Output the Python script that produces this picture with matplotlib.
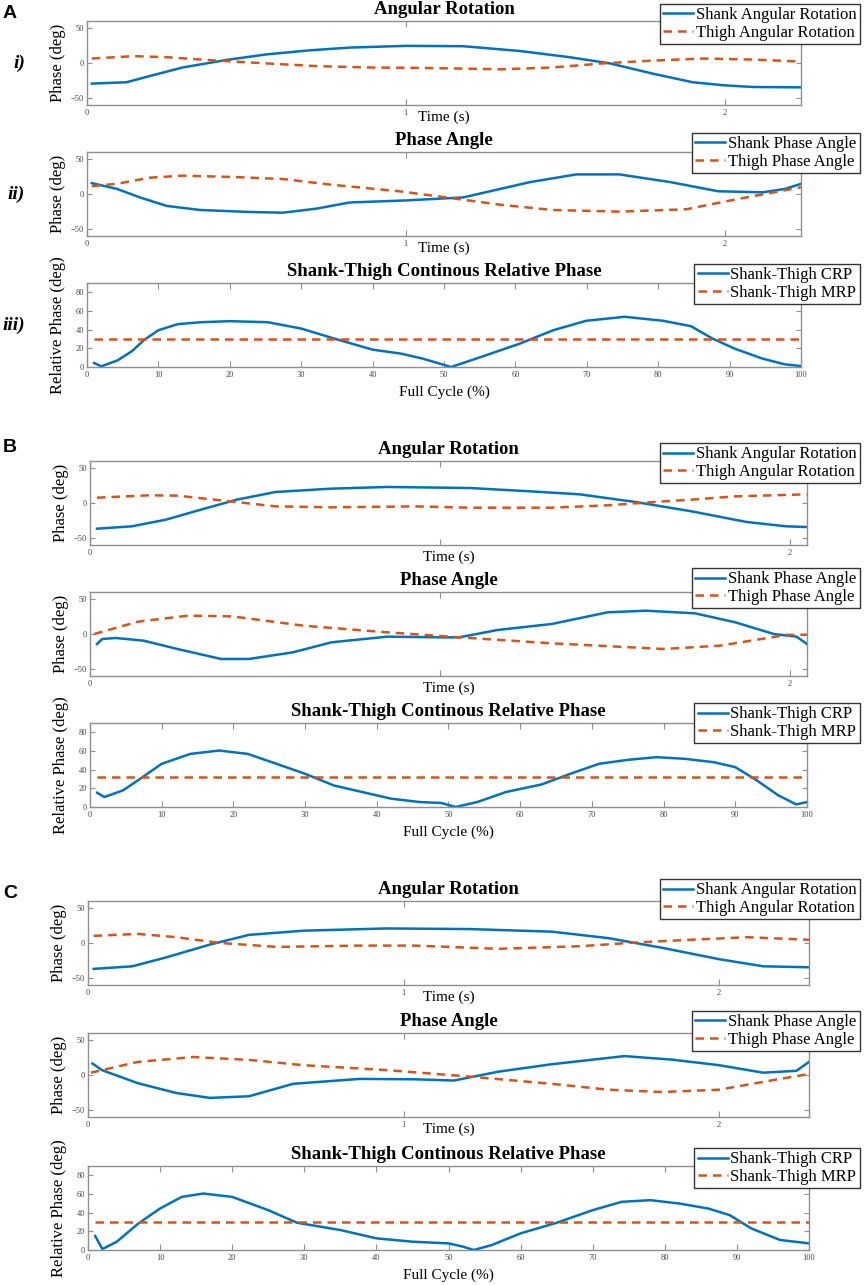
import matplotlib
matplotlib.use('Agg')
import matplotlib.pyplot as plt

plt.rcParams['font.family'] = ['Liberation Serif', 'DejaVu Serif']

W, H = 865, 1285
BLUE = '#0072BD'
ORANGE = '#D95319'

# ---- panel A ----
a_rot_t_shank = [0.015, 0.124, 0.197, 0.30, 0.438, 0.563, 0.699, 0.824, 1.0, 1.18, 1.357, 1.514, 1.64, 1.775, 1.90, 2.0, 2.09, 2.24]
a_rot_shank = [-29.4, -27.5, -18.6, -6.4, 4.4, 12.3, 18.1, 22.0, 24.5, 24.0, 17.2, 8.3, -0.5, -15.2, -27.5, -31.9, -34.3, -34.8]
a_rot_t_thigh = [0.015, 0.145, 0.25, 0.41, 0.56, 0.72, 0.88, 1.05, 1.30, 1.46, 1.62, 1.775, 1.93, 2.09, 2.24]
a_rot_thigh = [6.4, 9.8, 8.3, 3.4, -0.5, -4.4, -6.4, -7.0, -9.0, -6.4, -0.5, 3.4, 6.4, 4.9, 2.0]

a_pha_t_shank = [0.015, 0.094, 0.166, 0.25, 0.354, 0.51, 0.615, 0.72, 0.824, 1.0, 1.18, 1.25, 1.39, 1.535, 1.67, 1.83, 1.98, 2.12, 2.19, 2.24]
a_pha_shank = [15.5, 7.3, -4.9, -17.0, -22.8, -25.7, -26.7, -20.9, -12.1, -9.2, -4.9, 2.4, 17.0, 28.0, 28.0, 17.0, 3.9, 2.4, 7.3, 14.6]
a_pha_t_thigh = [0.015, 0.094, 0.197, 0.30, 0.46, 0.615, 0.77, 0.98, 1.15, 1.30, 1.46, 1.67, 1.88, 2.04, 2.24]
a_pha_thigh = [11.2, 14.6, 23.3, 26.2, 24.3, 21.4, 13.1, 3.9, -6.3, -15.5, -22.8, -25.2, -21.8, -7.3, 9.7]

a_crp_x = [1, 2, 4.3, 6.3, 8, 10, 12.7, 16, 20, 25.3, 30, 34.6, 40, 44, 47, 51, 55.2, 60.6, 65.3, 69.9, 75.3, 80.7, 84.6, 87.6, 90.7, 94.6, 97.7, 100]
a_crp = [4.3, 0.7, 7.2, 17.0, 29.0, 39.4, 45.9, 48.0, 49.1, 48.0, 41.2, 30.5, 18.6, 14.3, 9.0, 0.0, 10.8, 25.0, 39.4, 49.5, 53.8, 49.5, 43.7, 30.5, 19.7, 9.0, 2.9, 1.0]
a_mrp = 29.7

# ---- panel B ----
b_rot_t_shank = [0.02, 0.12, 0.217, 0.327, 0.42, 0.53, 0.69, 0.85, 1.086, 1.244, 1.40, 1.56, 1.72, 1.877, 1.99, 2.05]
b_rot_shank = [-36.7, -33.3, -23.8, -8.1, 4.8, 15.7, 20.5, 22.9, 21.4, 17.1, 12.4, 1.4, -11.9, -27.1, -33.3, -34.3]
b_rot_t_thigh = [0.02, 0.17, 0.25, 0.375, 0.53, 0.69, 0.93, 1.086, 1.32, 1.48, 1.61, 1.72, 1.845, 2.05]
b_rot_thigh = [7.6, 11.0, 10.5, 3.8, -4.8, -6.2, -4.8, -6.7, -6.7, -3.3, 1.4, 4.8, 9.5, 12.4]

b_pha_t_shank = [0.02, 0.035, 0.074, 0.153, 0.25, 0.375, 0.454, 0.58, 0.69, 0.85, 1.007, 1.055, 1.165, 1.32, 1.48, 1.59, 1.73, 1.845, 1.955, 2.02, 2.05]
b_pha_shank = [-14.3, -7.1, -5.7, -9.5, -21.4, -35.7, -35.7, -26.2, -11.9, -3.8, -4.8, -4.8, 5.7, 14.3, 31.0, 33.3, 29.5, 16.7, 0.0, -3.8, -14.3]
b_pha_t_thigh = [0.012, 0.137, 0.28, 0.406, 0.61, 0.85, 1.086, 1.32, 1.64, 1.80, 1.92, 1.99, 2.05]
b_pha_thigh = [0.0, 17.6, 26.2, 25.2, 11.9, 2.4, -5.7, -13.3, -21.4, -16.7, -7.1, -1.4, -1.0]

b_crp_x = [1, 2, 4.6, 7, 10, 14, 18, 22, 26, 30, 34, 38, 42, 46, 49, 51, 54, 58, 63, 67, 71, 75, 79, 83, 87, 90, 93, 96, 98.5, 100]
b_crp = [15.3, 10.7, 17.8, 30.2, 46.3, 56.9, 60.5, 56.9, 46.3, 35.6, 23.1, 16.0, 8.9, 5.3, 4.3, 0.0, 5.3, 16.0, 24.2, 35.6, 46.3, 50.5, 53.4, 51.6, 48.0, 42.7, 28.5, 12.5, 2.8, 5.3]
b_mrp = 32.0

# ---- panel C ----
c_rot_t_shank = [0.018, 0.14, 0.246, 0.386, 0.51, 0.684, 0.947, 1.21, 1.47, 1.65, 1.82, 2.0, 2.14, 2.285]
c_rot_shank = [-37.0, -33.3, -20.8, -2.3, 11.6, 17.6, 20.8, 19.9, 16.2, 6.9, -6.9, -23.1, -33.3, -34.7]
c_rot_t_thigh = [0.018, 0.158, 0.28, 0.42, 0.6, 0.86, 1.035, 1.30, 1.56, 1.74, 1.91, 2.09, 2.285]
c_rot_thigh = [10.2, 13.0, 8.3, 0.0, -5.6, -3.7, -3.7, -8.3, -4.6, 0.9, 4.6, 8.3, 4.6]

c_pha_t_shank = [0.014, 0.044, 0.158, 0.28, 0.386, 0.51, 0.65, 0.86, 1.035, 1.16, 1.30, 1.47, 1.70, 1.85, 2.0, 2.14, 2.245, 2.285]
c_pha_shank = [16.4, 7.0, -11.7, -25.7, -32.7, -30.4, -12.6, -5.6, -6.1, -7.9, 4.7, 15.4, 27.0, 22.0, 14.0, 3.3, 6.0, 18.7]
c_pha_t_thigh = [0.009, 0.158, 0.333, 0.51, 0.684, 0.947, 1.21, 1.47, 1.65, 1.82, 2.0, 2.175, 2.285]
c_pha_thigh = [3.3, 18.7, 25.7, 21.6, 14.0, 7.0, -2.3, -12.6, -21.0, -24.3, -21.0, -7.0, 1.4]

c_crp_x = [1, 2, 4, 7, 10, 13, 16, 20, 25, 29, 35, 40, 45, 50, 52, 53.5, 56, 60, 65, 70, 74, 78, 82, 86, 89, 92, 96, 100]
c_crp = [15.0, 1.0, 8.9, 28.5, 44.5, 56.9, 60.5, 56.9, 42.7, 29.2, 21.4, 12.5, 8.9, 7.1, 3.6, 0.0, 5.3, 17.8, 29.2, 42.7, 51.6, 53.4, 49.8, 44.5, 37.4, 23.1, 10.7, 7.1]
c_mrp = 29.5

time_ticks = [0, 1, 2]
cycle_ticks = [0, 10, 20, 30, 40, 50, 60, 70, 80, 90, 100]
phase_ticks = [-50, 0, 50]
rel_ticks = [0, 20, 40, 60, 80]

panels = [
    dict(letter='A', letter_y=13, left=87, right=801, tmax=2.24, tops=[21, 152, 283],
         leg_tops=[4, 133, 264], time_labels=['0', '1', '2'], romans=['i)', 'ii)', 'iii)'],
         rot=(a_rot_t_shank, a_rot_shank, a_rot_t_thigh, a_rot_thigh),
         pha=(a_pha_t_shank, a_pha_shank, a_pha_t_thigh, a_pha_thigh),
         crp=(a_crp_x, a_crp, a_mrp)),
    dict(letter='B', letter_y=448, left=90, right=807, tmax=2.05, tops=[461, 592, 723],
         leg_tops=[443, 568, 703], time_labels=['0', '', '2'], romans=None,
         rot=(b_rot_t_shank, b_rot_shank, b_rot_t_thigh, b_rot_thigh),
         pha=(b_pha_t_shank, b_pha_shank, b_pha_t_thigh, b_pha_thigh),
         crp=(b_crp_x, b_crp, b_mrp)),
    dict(letter='C', letter_y=893, left=88, right=809, tmax=2.285, tops=[901, 1033, 1166],
         leg_tops=[879, 1011, 1148], time_labels=['0', '1', '2'], romans=None,
         rot=(c_rot_t_shank, c_rot_shank, c_rot_t_thigh, c_rot_thigh),
         pha=(c_pha_t_shank, c_pha_shank, c_pha_t_thigh, c_pha_thigh),
         crp=(c_crp_x, c_crp, c_mrp)),
]

AX_H = 84
LW = 1.8
DASH = (3.4, 2.4)

fig = plt.figure(figsize=(W / 100, H / 100), dpi=100)


def add_ax(left, right, top):
    return fig.add_axes([left / W, 1 - (top + AX_H) / H, (right - left) / W, AX_H / H])


def style(ax):
    for s in ax.spines.values():
        s.set_color('#8f8f8f')
        s.set_linewidth(1.0)
    ax.tick_params(direction='in', top=True, right=True, labelsize=6,
                   color='#8f8f8f', labelcolor='#444444', width=0.8)
    ax.tick_params(axis='x', length=4.5, pad=3)
    ax.tick_params(axis='y', length=3.5, pad=2)


def texts(ax, title, xlabel, xlab_off, ylabel):
    ax.annotate(title, (0.5, 1), xycoords='axes fraction', xytext=(0, 8.6),
                textcoords='offset points', ha='center', va='center',
                fontsize=13.5, fontweight='bold')
    ax.annotate(xlabel, (0.5, 0), xycoords='axes fraction', xytext=(0, -xlab_off),
                textcoords='offset points', ha='center', va='center', fontsize=11)
    ax.annotate(ylabel, (0, 0.5), xycoords='axes fraction', xytext=(-21, 0),
                textcoords='offset points', ha='center', va='center',
                rotation=90, fontsize=12)


def legend(ax, top):
    # legends sit partly outside the axes, pinned to the figure's right edge
    ax.legend(loc='upper right', bbox_to_anchor=(859.5 / W, 1 - top / H),
              bbox_transform=fig.transFigure, borderaxespad=0, fontsize=12,
              frameon=True, fancybox=False, edgecolor='#333333', framealpha=1,
              handlelength=1.8, handletextpad=0.15, labelspacing=0.1,
              borderpad=0.2)


for p in panels:
    fig.text(3 / W, 1 - p['letter_y'] / H, p['letter'], family='Liberation Sans',
             fontweight='bold', fontsize=14, va='center', ha='left')

    # angular rotation
    ax = add_ax(p['left'], p['right'], p['tops'][0])
    ts, ys, tt, yt = p['rot']
    ax.plot(ts, ys, color=BLUE, lw=LW, label='Shank Angular Rotation')
    ax.plot(tt, yt, color=ORANGE, lw=LW, dashes=DASH, label='Thigh Angular Rotation')
    ax.set_xlim(0, p['tmax'])
    ax.set_ylim(-60, 60)
    ax.set_xticks(time_ticks)
    ax.set_xticklabels(p['time_labels'])
    ax.set_yticks(phase_ticks)
    style(ax)
    texts(ax, 'Angular Rotation', 'Time (s)', 8.5, 'Phase (deg)')
    legend(ax, p['leg_tops'][0])

    # phase angle
    ax = add_ax(p['left'], p['right'], p['tops'][1])
    ts, ys, tt, yt = p['pha']
    ax.plot(ts, ys, color=BLUE, lw=LW, label='Shank Phase Angle')
    ax.plot(tt, yt, color=ORANGE, lw=LW, dashes=DASH, label='Thigh Phase Angle')
    ax.set_xlim(0, p['tmax'])
    ax.set_ylim(-60, 60)
    ax.set_xticks(time_ticks)
    ax.set_xticklabels(p['time_labels'])
    ax.set_yticks(phase_ticks)
    style(ax)
    texts(ax, 'Phase Angle', 'Time (s)', 8.5, 'Phase (deg)')
    legend(ax, p['leg_tops'][1])

    # continuous relative phase
    ax = add_ax(p['left'], p['right'], p['tops'][2])
    cx, cy, mrp = p['crp']
    ax.plot(cx, cy, color=BLUE, lw=LW, label='Shank-Thigh CRP')
    ax.plot([cx[0], cx[-1]], [mrp, mrp], color=ORANGE, lw=LW, dashes=DASH,
            label='Shank-Thigh MRP')
    ax.set_xlim(0, 100)
    ax.set_ylim(0, 90)
    ax.set_xticks(cycle_ticks)
    ax.set_yticks(rel_ticks)
    style(ax)
    texts(ax, 'Shank-Thigh Continous Relative Phase', 'Full Cycle (%)', 18, 'Relative Phase (deg)')
    legend(ax, p['leg_tops'][2])

    if p['romans']:
        for r, top in zip(p['romans'], p['tops']):
            fig.text(25 / W, 1 - (top + AX_H / 2) / H, r, ha='right', va='center',
                     fontsize=14, fontweight='bold', style='italic')

fig.savefig('out.png', dpi=100)
